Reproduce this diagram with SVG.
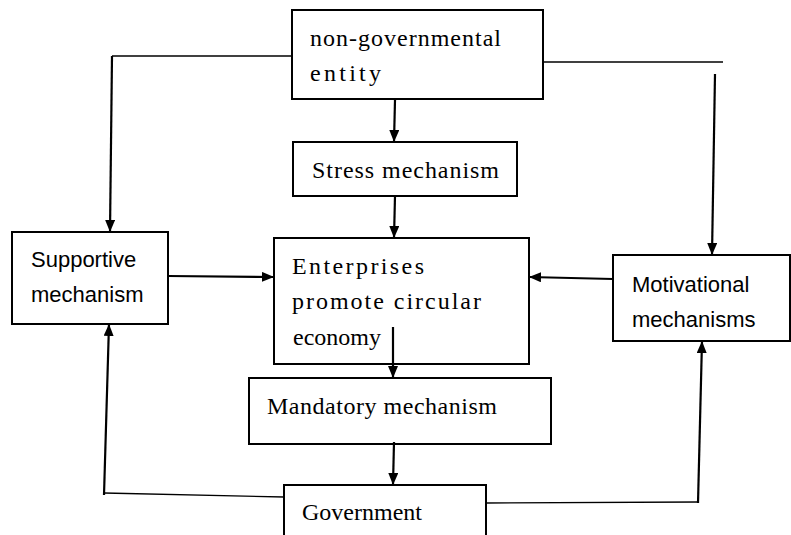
<svg xmlns="http://www.w3.org/2000/svg" width="791" height="535" viewBox="0 0 791 535">
<style>
.box{fill:#fff;stroke:#000;stroke-width:2}
.mono{font-family:"Liberation Serif","Times New Roman",serif;font-size:24px;fill:#000}
.sans{font-family:"Liberation Sans",Arial,sans-serif;font-size:22px;fill:#000}
.arr{fill:none;stroke:#000;stroke-width:2.2}
.thin{fill:none;stroke:#000;stroke-width:1.4}
</style>
<defs>
<marker id="ah" viewBox="0 0 12 10" refX="12" refY="5" markerWidth="12" markerHeight="10" markerUnits="userSpaceOnUse" orient="auto">
<path d="M0,0 L12,5 L0,10 Z" fill="#000"/>
</marker>
</defs>
<rect width="791" height="535" fill="#fff"/>
<g id="node-ngo">
<rect class="box" x="292" y="10" width="251" height="89"/>
<text class="mono" x="310" y="46" textLength="191">non-governmental</text>
<text class="mono" x="310" y="81" textLength="71">entity</text>
</g>
<g id="node-stress">
<rect class="box" x="293" y="142" width="224" height="54"/>
<text class="mono" x="312" y="178" textLength="187">Stress mechanism</text>
</g>
<g id="node-enterprises">
<rect class="box" x="274" y="238" width="255" height="126"/>
<text class="mono" x="292" y="274" textLength="132">Enterprises</text>
<text class="mono" x="292" y="309" textLength="189">promote circular</text>
<text class="mono" x="293" y="345">economy</text>
</g>
<g id="node-supportive">
<rect class="box" x="12" y="232" width="156" height="92"/>
<text class="sans" x="31" y="267">Supportive</text>
<text class="sans" x="31" y="302">mechanism</text>
</g>
<g id="node-motivational">
<rect class="box" x="613" y="255" width="177" height="86"/>
<text class="sans" x="632" y="292">Motivational</text>
<text class="sans" x="632" y="327">mechanisms</text>
</g>
<g id="node-mandatory">
<rect class="box" x="249" y="378" width="302" height="66"/>
<text class="mono" x="267" y="414" textLength="230">Mandatory mechanism</text>
</g>
<g id="node-government">
<rect class="box" x="284" y="485" width="202" height="60"/>
<text class="mono" x="302" y="520" textLength="120">Government</text>
</g>
<g id="connectors">
<polyline class="thin" points="292,56 112,56"/>
<line class="arr" x1="112" y1="56" x2="110" y2="232" marker-end="url(#ah)"/>
<line class="thin" x1="543" y1="62" x2="723" y2="62"/>
<line class="arr" x1="715" y1="74" x2="712" y2="255" marker-end="url(#ah)"/>
<line class="arr" x1="395" y1="100" x2="394" y2="142" marker-end="url(#ah)"/>
<line class="arr" x1="395" y1="196" x2="394" y2="238" marker-end="url(#ah)"/>
<line class="arr" x1="168" y1="276" x2="274" y2="277" marker-end="url(#ah)"/>
<line class="arr" x1="613" y1="279" x2="529" y2="277" marker-end="url(#ah)"/>
<line class="arr" x1="393" y1="327" x2="393" y2="378" marker-end="url(#ah)"/>
<line class="arr" x1="394" y1="442" x2="393" y2="485" marker-end="url(#ah)"/>
<line class="thin" x1="284" y1="497" x2="104" y2="493"/>
<line class="arr" x1="104" y1="495" x2="109" y2="324" marker-end="url(#ah)"/>
<line class="thin" x1="486" y1="503" x2="698" y2="502"/>
<line class="arr" x1="698" y1="503" x2="702" y2="341" marker-end="url(#ah)"/>
</g>
</svg>
